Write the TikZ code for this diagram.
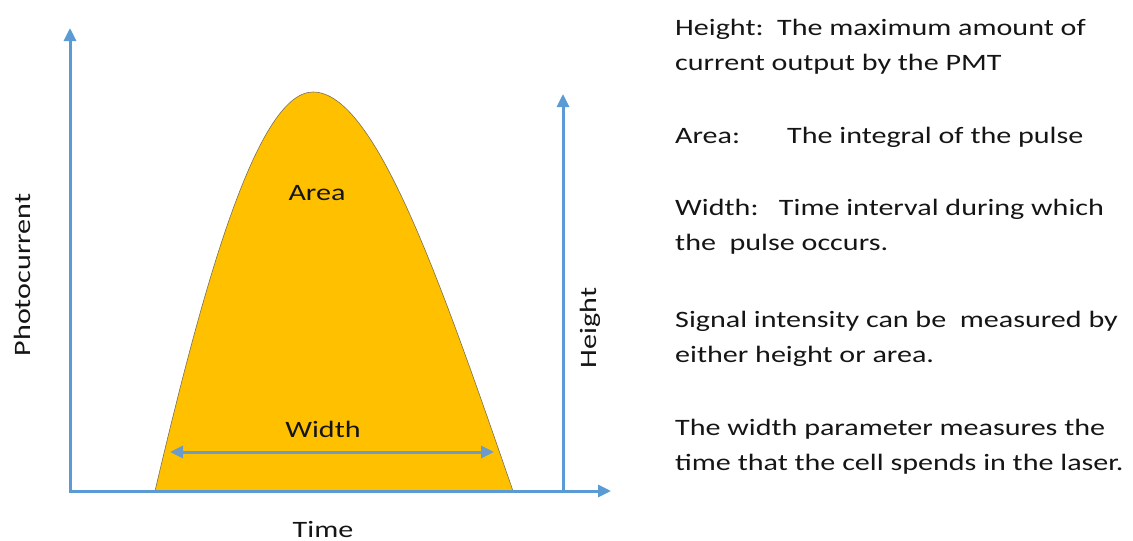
\documentclass[tikz,border=0pt]{standalone}
\usepackage{fontspec}
\setmainfont{Carlito}[FakeStretch=1.28]
\usetikzlibrary{arrows.meta}
\definecolor{axisblue}{HTML}{5B9BD5}
\definecolor{widthblue}{HTML}{6A9BCB}
\definecolor{pulsefill}{HTML}{FFC000}
\definecolor{pulseline}{HTML}{7A7256}
\definecolor{inktext}{HTML}{151515}
\tikzset{
  axisline/.style={draw=axisblue, line width=3pt, -{Triangle[length=13pt, width=12pt]}},
  widtharrow/.style={draw=widthblue, line width=3pt, {Triangle[length=13pt, width=12pt]}-{Triangle[length=13pt, width=12pt]}},
  plotlabel/.style={font=\fontsize{23.5}{28}\selectfont, text=inktext, inner sep=0pt},
  notetext/.style={font=\fontsize{23.5}{35}\selectfont, text=inktext, align=left, anchor=base west, inner sep=0pt}
}
\begin{document}
\begin{tikzpicture}[x=1pt, y=-1pt]
\useasboundingbox (0,0) rectangle (1133,541);
% axes and pulse
\coordinate (origin) at (70,491);
\coordinate (ytip) at (70,28);
\coordinate (xtip) at (611,491);
\coordinate (hbase) at (563,491);
\coordinate (htop) at (563,94);
\coordinate (wleft) at (170,452);
\coordinate (wright) at (494,452);
\fill[pulsefill] (155,491) .. controls (200,300) and (255,92) .. (313,92)
  .. controls (375,92) and (440,280) .. (513,491) -- cycle;
\draw[pulseline, line width=0.6pt] (155,491) .. controls (200,300) and (255,92) .. (313,92)
  .. controls (375,92) and (440,280) .. (513,491);
\draw[axisline] ([yshift=1.5pt]origin) -- (ytip);
\draw[axisline] ([xshift=-1.5pt]origin) -- (xtip);
\draw[axisline] (hbase) -- (htop);
\draw[widtharrow] (wleft) -- (wright);
% labels
\node[plotlabel, anchor=base] (area) at (317,200) {Area};
\node[plotlabel, anchor=base] (width) at (323,437) {Width};
\node[plotlabel, anchor=base] (time) at (323,537) {Time};
\node[plotlabel, rotate=90] (height) at (590,328) {Height};
\node[plotlabel, rotate=90] (photo) at (22,275) {Photocurrent};
% notes
\node[notetext] (heightnote) at (675,70) {Height:\ \ The maximum amount of\\current output by the PMT};
\node[notetext] (areanote) at (675,143) {Area:\qquad The integral of the pulse};
\node[notetext] (widthnote) at (675,250) {Width:\ \ \ Time interval during which\\the\ \ pulse occurs.};
\node[notetext] (signalnote) at (675,362) {Signal intensity can be\ \ measured by\\either height or area.};
\node[notetext] (paramnote) at (675,470) {The width parameter measures the\\time that the cell spends in the laser.};
\end{tikzpicture}
\end{document}
